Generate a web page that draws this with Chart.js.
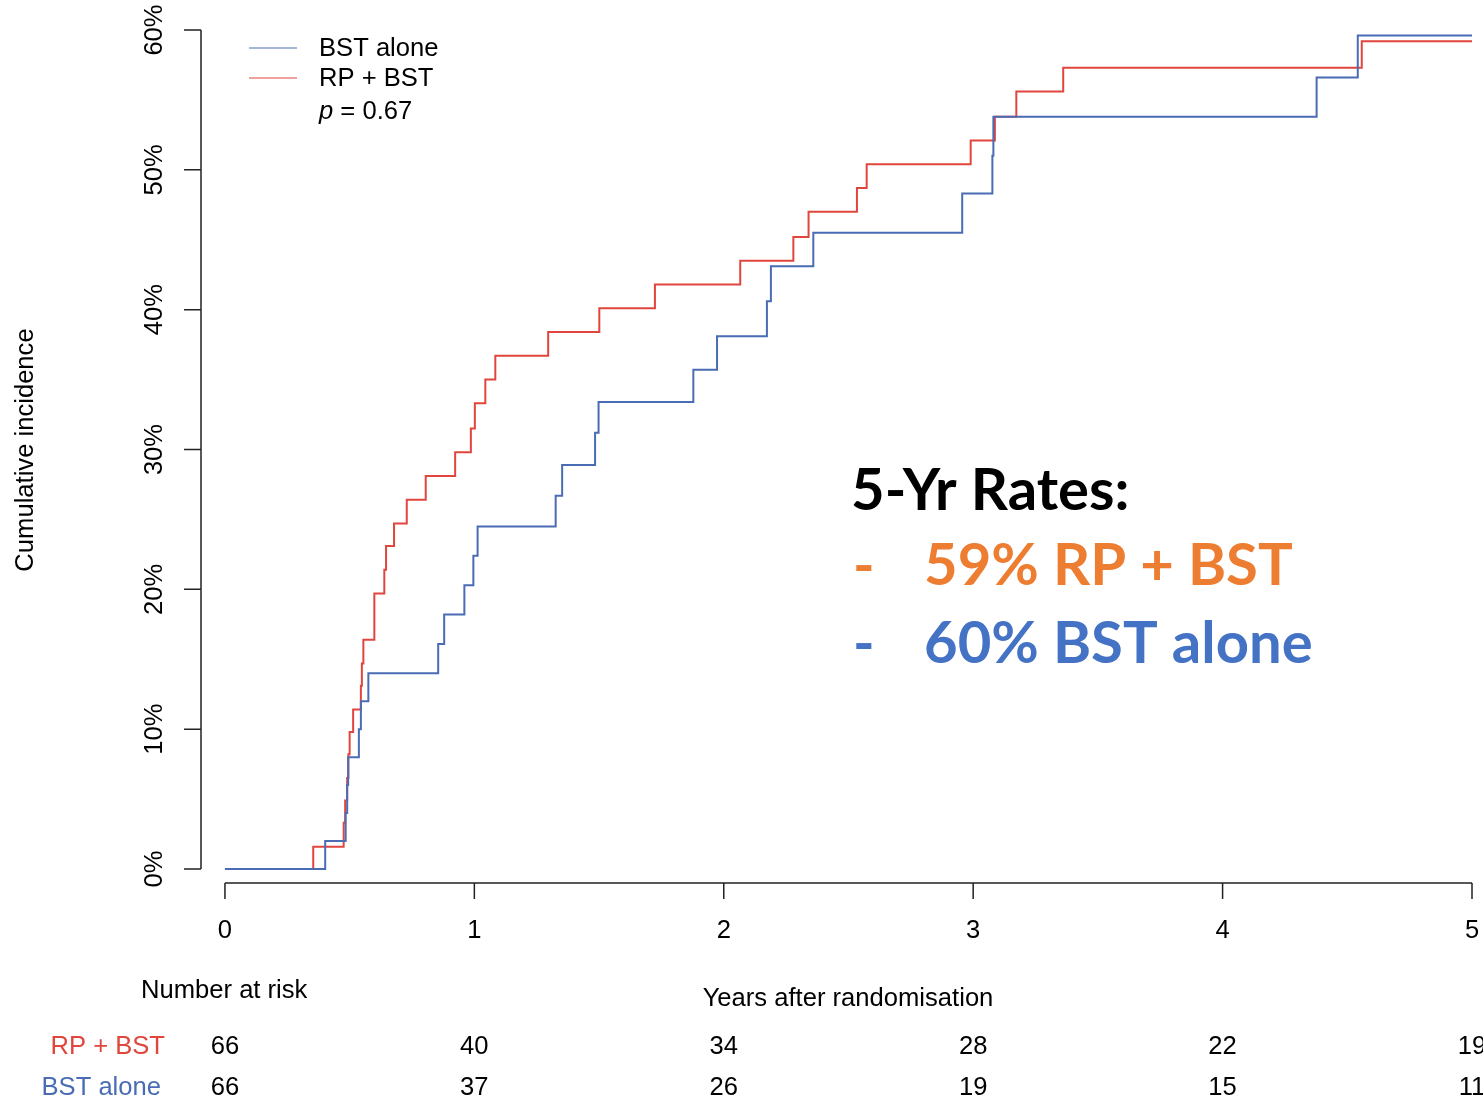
<!DOCTYPE html>
<html><head><meta charset="utf-8">
<script src="https://cdn.jsdelivr.net/npm/chart.js@4"></script>
<style>html,body{margin:0;padding:0;background:#fff;} canvas{display:block;}</style>
</head><body>
<canvas id="c" width="1483" height="1101"></canvas>
<script>
// ---- data ----
const rpTimes  = [0, 0.354, 0.476, 0.482, 0.490, 0.495, 0.500, 0.514, 0.545, 0.549, 0.555, 0.599, 0.639, 0.646, 0.678, 0.729, 0.805, 0.923, 0.986, 1.002, 1.044, 1.084, 1.296, 1.501, 1.724, 2.066, 2.279, 2.340, 2.534, 2.573, 2.990, 3.087, 3.173, 3.361, 4.558, 5.0];
const rpValues = [0, 1.6, 3.3, 4.9, 6.5, 8.2, 9.8, 11.4, 13.1, 14.7, 16.4, 19.7, 21.4, 23.1, 24.7, 26.4, 28.1, 29.8, 31.5, 33.3, 35.0, 36.7, 38.4, 40.1, 41.8, 43.5, 45.2, 47.0, 48.7, 50.4, 52.1, 53.8, 55.6, 57.3, 59.2, 59.2];
const bstTimes  = [0, 0.402, 0.484, 0.490, 0.494, 0.537, 0.545, 0.575, 0.855, 0.879, 0.960, 0.996, 1.013, 1.326, 1.352, 1.484, 1.498, 1.878, 1.973, 2.173, 2.189, 2.359, 2.956, 3.077, 3.081, 4.377, 4.542, 5.0];
const bstValues = [0, 2.0, 4.0, 6.0, 8.0, 10.0, 12.0, 14.0, 16.1, 18.2, 20.3, 22.4, 24.5, 26.7, 28.9, 31.2, 33.4, 35.7, 38.1, 40.6, 43.1, 45.5, 48.3, 51.0, 53.8, 56.6, 59.6, 59.6];
const xTicks = [0, 1, 2, 3, 4, 5];
const yTicks = [0, 10, 20, 30, 40, 50, 60];
const yTickLabels = ['0%', '10%', '20%', '30%', '40%', '50%', '60%'];
const riskRP  = [66, 40, 34, 28, 22, 19];
const riskBST = [66, 37, 26, 19, 15, 11];
const seriesNames = ['BST alone', 'RP + BST'];
const pText = '0.67';
const annoTitle = '5-Yr Rates:';
const annoRP = '59% RP + BST';
const annoBST = '60% BST alone';

const BLUE = '#4a6cb4', RED = '#e0463d';
const FONT = "'Liberation Sans', Arial, Helvetica, sans-serif";
const FS = '25.6px ';

const decor = {
  id: 'decor',
  afterDraw(chart) {
    const c = chart.ctx, xs = chart.scales.x, ys = chart.scales.y, ca = chart.chartArea;
    c.save();
    c.strokeStyle = '#222'; c.lineWidth = 1.5; c.fillStyle = '#000';
    // y axis
    const ax = ca.left;
    c.beginPath();
    c.moveTo(ax, ys.getPixelForValue(yTicks[0])); c.lineTo(ax, ys.getPixelForValue(yTicks[yTicks.length-1]));
    yTicks.forEach(v => { const p = ys.getPixelForValue(v); c.moveTo(ax, p); c.lineTo(ax - 17, p); });
    c.stroke();
    c.font = FS + FONT; c.textAlign = 'center'; c.textBaseline = 'middle';
    yTicks.forEach((v, i) => {
      const p = ys.getPixelForValue(v);
      c.save(); c.translate(155, p); c.rotate(-Math.PI/2); c.fillText(yTickLabels[i], 0, 0); c.restore();
    });
    c.save(); c.translate(26, 450); c.rotate(-Math.PI/2); c.fillText('Cumulative incidence', 0, 0); c.restore();
    // x axis
    const ay = ca.bottom;
    c.beginPath();
    c.moveTo(xs.getPixelForValue(xTicks[0]), ay); c.lineTo(xs.getPixelForValue(xTicks[xTicks.length-1]), ay);
    xTicks.forEach(v => { const p = xs.getPixelForValue(v); c.moveTo(p, ay); c.lineTo(p, ay + 16); });
    c.stroke();
    xTicks.forEach(v => c.fillText(String(v), xs.getPixelForValue(v), 931));
    c.fillText('Years after randomisation', 848, 999);
    // number at risk
    c.textAlign = 'left'; c.fillText('Number at risk', 141, 991);
    c.textAlign = 'right';
    c.fillStyle = RED; c.fillText(seriesNames[1], 165, 1047);
    c.fillStyle = BLUE; c.fillText(seriesNames[0], 161, 1088);
    c.fillStyle = '#000'; c.textAlign = 'center';
    xTicks.forEach((v, i) => {
      const p = xs.getPixelForValue(v);
      c.fillText(String(riskRP[i]), p, 1047);
      c.fillText(String(riskBST[i]), p, 1088);
    });
    // legend
    c.lineWidth = 1.2;
    c.strokeStyle = BLUE; c.beginPath(); c.moveTo(249, 48); c.lineTo(297, 48); c.stroke();
    c.strokeStyle = RED; c.beginPath(); c.moveTo(249, 78); c.lineTo(297, 78); c.stroke();
    c.textAlign = 'left'; c.fillStyle = '#000';
    c.fillText(seriesNames[0], 319, 49);
    c.fillText(seriesNames[1], 319, 79);
    c.font = 'italic ' + FS + FONT; c.fillText('p', 319, 112);
    const pw = c.measureText('p').width;
    c.font = FS + FONT; c.fillText(' = ' + pText, 319 + pw, 112);
    // annotation
    c.textBaseline = 'alphabetic';
    c.font = "bold 58px Lato, 'Open Sans', sans-serif";
    c.fillStyle = '#000'; c.fillText(annoTitle, 851, 510);
    c.fillStyle = '#ED7D31'; c.fillText('-', 853, 585); c.fillText(annoRP, 924, 585);
    c.fillStyle = '#4472C4'; c.fillText('-', 853, 663); c.fillText(annoBST, 924, 663);
    c.restore();
  }
};

new Chart(document.getElementById('c').getContext('2d'), {
  type: 'line',
  data: {
    datasets: [
      { label: seriesNames[0], data: bstTimes.map((t, i) => ({x: t, y: bstValues[i]})),
        borderColor: BLUE, borderWidth: 2, stepped: true, pointRadius: 0, fill: false },
      { label: seriesNames[1], data: rpTimes.map((t, i) => ({x: t, y: rpValues[i]})),
        borderColor: RED, borderWidth: 2, stepped: true, pointRadius: 0, fill: false }
    ]
  },
  options: {
    responsive: false, animation: false,
    layout: { padding: { left: 201, top: 30, right: 11, bottom: 218 } },
    plugins: { legend: { display: false }, tooltip: { enabled: false } },
    scales: {
      x: { type: 'linear', min: -0.096, max: 5, display: false },
      y: { type: 'linear', min: -1, max: 60, display: false }
    }
  },
  plugins: [decor]
});
</script>
</body></html>
